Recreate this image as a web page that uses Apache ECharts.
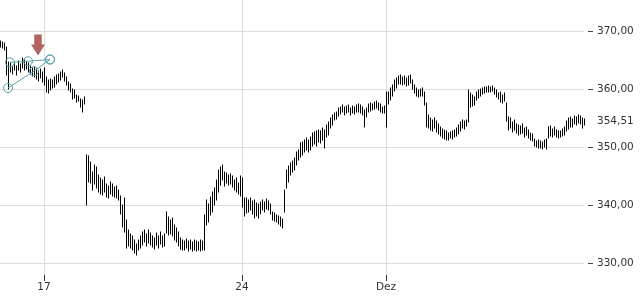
<!DOCTYPE html>
<html>
<head>
<meta charset="utf-8">
<script src="https://cdn.jsdelivr.net/npm/echarts@6/dist/echarts.min.js"></script>
<style>
html,body{margin:0;padding:0;background:#fff;}
#chart{width:640px;height:300px;}
</style>
</head>
<body>
<div id="chart"></div>
<script>
// Intraday high / low per time slot
const highs = [
368.2,368.1,367.9,367.2,364.6,364.5,363.9,364.6,363.9,364.8,
364.3,365.3,365.0,364.6,364.5,363.9,363.6,363.8,363.4,363.1,
363.4,362.9,363.6,362.1,361.5,361.7,361.5,362.1,362.4,362.6,
362.9,363.3,362.7,362.1,361.2,360.9,360.0,359.8,359.0,358.8,
358.3,358.1,358.6,348.7,348.5,347.5,345.8,347.0,346.6,345.3,
344.7,344.4,344.9,343.7,343.4,344.0,343.7,343.2,343.4,342.7,
341.6,340.1,341.3,337.5,335.8,335.1,334.8,334.1,333.4,334.1,
334.8,335.5,335.8,335.1,335.8,335.3,334.8,334.4,335.3,334.8,
335.5,334.8,335.1,338.9,338.0,337.5,337.9,336.7,336.2,335.5,
334.4,334.1,333.9,334.3,333.9,334.1,333.8,334.1,333.9,333.8,
334.1,333.9,338.4,341.0,340.3,341.5,342.3,343.0,344.4,346.1,
346.6,347.0,345.8,345.6,345.3,345.4,345.1,344.4,344.7,343.9,
345.1,344.7,341.3,341.3,341.0,341.3,340.8,341.0,340.4,340.3,
340.6,341.0,340.6,341.1,340.8,340.3,338.9,338.7,338.4,338.2,
338.0,337.7,342.7,346.1,346.8,347.3,347.7,348.2,349.2,349.5,
350.7,350.9,351.3,351.6,351.3,351.8,352.5,352.6,352.8,353.0,
352.8,353.3,353.0,353.8,354.3,355.0,355.5,355.9,356.1,356.7,
356.9,357.3,356.9,357.1,357.3,356.7,357.1,356.9,357.3,357.4,
357.3,356.9,356.4,356.7,357.4,357.6,357.4,357.8,357.9,357.6,
357.4,356.9,357.1,359.5,359.5,360.2,360.7,361.5,361.9,362.2,
362.4,362.1,362.2,361.9,362.2,362.4,361.5,360.7,360.2,359.8,
360.0,360.2,359.5,357.6,355.5,355.0,354.7,355.0,354.5,354.0,
353.5,353.1,353.0,352.8,352.5,352.6,352.8,353.0,353.3,353.8,
354.3,354.7,354.5,354.7,359.8,359.3,359.0,358.6,359.5,359.8,
360.0,360.2,360.3,360.3,360.5,360.3,360.5,360.2,359.8,359.3,
359.5,359.0,359.3,357.6,355.2,355.0,354.3,354.7,354.0,353.8,
353.7,354.0,353.3,353.5,353.0,352.5,352.3,351.4,351.1,351.3,
351.1,350.9,351.3,351.4,353.5,353.7,353.1,353.5,353.0,352.8,
352.8,353.1,353.5,354.5,355.0,355.2,354.9,355.4,355.2,355.5,
355.4,355.0,354.9
];
const lows = [
367.2,367.0,366.7,362.4,360.0,362.9,362.6,363.3,362.4,363.3,
362.9,363.6,363.3,363.4,362.9,362.6,362.2,362.1,361.7,361.4,
361.9,361.2,360.7,359.5,359.3,359.8,360.2,360.3,360.9,361.2,
361.5,362.1,361.4,360.7,359.8,359.5,358.3,358.5,357.8,357.9,
356.9,356.1,357.4,340.1,344.0,343.9,342.7,343.7,343.0,342.3,
342.0,341.8,342.3,341.5,341.3,342.0,341.6,341.5,341.3,341.0,
338.6,336.3,335.5,332.7,333.1,332.7,332.4,331.9,331.5,332.4,
332.7,333.2,333.8,333.1,333.6,333.2,332.9,332.6,333.2,332.7,
333.4,332.9,333.1,335.3,335.0,335.1,334.8,334.1,333.8,333.1,
332.6,332.4,332.4,332.7,332.2,332.6,332.2,332.4,332.2,332.4,
332.2,332.4,332.4,336.7,337.2,338.4,338.9,340.1,341.0,342.3,
343.5,344.4,343.4,343.9,343.5,343.7,343.2,342.7,342.3,342.0,
341.6,339.8,338.2,338.7,338.9,339.2,338.6,337.9,338.2,337.9,
338.6,339.2,338.9,339.4,339.2,338.6,337.5,337.4,337.2,336.8,
336.5,336.2,338.9,343.0,344.0,345.3,345.8,346.1,347.0,347.8,
348.3,348.7,349.2,349.5,349.2,349.5,350.2,350.6,350.2,350.9,
350.7,351.3,349.9,351.8,352.1,353.3,353.8,354.7,354.9,355.4,
355.7,356.1,355.5,355.9,356.1,355.5,355.9,355.7,356.1,356.1,
355.9,355.5,353.5,355.2,356.1,356.2,356.4,356.6,356.7,356.4,
356.1,355.9,355.9,353.5,357.4,358.1,358.8,359.7,360.2,360.9,
360.9,360.7,360.9,360.5,360.7,361.0,360.0,359.3,358.8,358.6,
358.8,358.8,357.3,353.5,353.3,353.0,352.8,353.3,352.6,352.3,
351.9,351.6,351.4,351.3,351.3,351.6,351.4,351.8,351.9,352.3,
352.8,353.3,353.1,353.7,354.3,356.9,357.1,357.3,358.1,358.5,
358.8,359.1,359.3,359.5,359.5,359.5,359.7,359.1,358.6,358.3,
357.8,357.6,357.9,354.5,353.0,353.3,352.6,353.0,352.5,352.1,
352.3,352.5,351.8,352.1,351.6,351.3,351.1,350.2,350.1,349.9,
349.9,349.7,350.1,349.7,351.6,351.9,351.8,352.1,351.8,351.6,
351.8,351.9,352.1,352.8,353.1,353.5,353.5,354.0,353.8,354.2,
354.0,353.3,353.8
];
// Day starts (slot index) and their tick labels
const dayLabels = ['17', '24', 'Dez'];
const dayIdx = [22, 121, 193];
// Price axis ticks
const priceTicks = [330, 340, 350, 360, 370];
const lastPrice = 354.51;
// Chart annotations (slot index, price)
const trendUpper = [[5, 364.6], [14, 364.8], [25, 365.1]];
const trendLower = [[4, 360.2], [17, 363.1], [25, 365.1]];
const arrowMark = [[19, 367.6]];

const categories = highs.map((_, i) => {
  const k = dayIdx.indexOf(i);
  return k >= 0 ? dayLabels[k] : '';
});
const bars = highs.map((h, i) => [i, lows[i], h]);
const isDay = (i) => dayIdx.indexOf(i) >= 0;
const fmt = (v) => v.toFixed(2).replace('.', ',');

const FONT = 'DejaVu Sans';
const chart = echarts.init(document.getElementById('chart'), null, {renderer: 'canvas'});
const teal = '#55a2a6';

chart.setOption({
  animation: false,
  backgroundColor: '#ffffff',
  grid: [
    {left: 0, width: 584, top: -27.175, height: 349.05, containLabel: false, outerBoundsMode: 'none'},
    {left: 0, width: 584, top: 0, height: 281, containLabel: false, outerBoundsMode: 'none'}
  ],
  xAxis: [
    {type: 'category', gridIndex: 0, data: categories, boundaryGap: false, show: false},
    {
      type: 'category', gridIndex: 1, data: categories, boundaryGap: false,
      offset: 19,
      axisLine: {show: false},
      axisTick: {show: true, inside: true, length: 6, interval: isDay, lineStyle: {color: '#333'}},
      axisLabel: {show: true, inside: true, margin: 7, interval: isDay, color: '#333', fontSize: 10.5, fontFamily: FONT},
      splitLine: {show: true, interval: isDay, lineStyle: {color: '#dcdcdc', width: 1}}
    }
  ],
  yAxis: [
    {
      type: 'value', gridIndex: 0, position: 'right',
      min: 320, max: 380, interval: 10, offset: 4,
      axisLine: {show: false},
      axisTick: {show: true, length: 5, lineStyle: {color: '#444'}},
      axisLabel: {
        margin: 9, color: '#333', fontSize: 10.5, fontFamily: FONT,
        formatter: (v) => priceTicks.indexOf(v) >= 0 ? fmt(v) : ''
      },
      splitLine: {show: true, lineStyle: {color: '#dcdcdc', width: 1}}
    },
    {type: 'value', gridIndex: 1, show: false, min: 0, max: 1}
  ],
  series: [
    {
      type: 'custom',
      xAxisIndex: 0, yAxisIndex: 0,
      data: bars,
      encode: {x: 0, y: [1, 2]},
      clip: false,
      renderItem: function (params, api) {
        const i = api.value(0);
        const lo = api.coord([i, api.value(1)]);
        const hi = api.coord([i, api.value(2)]);
        const x = Math.round(lo[0]) + 0.5;
        return {
          type: 'line',
          shape: {x1: x, y1: Math.round(lo[1]) + 0.5, x2: x, y2: Math.round(hi[1]) - 0.5},
          style: {stroke: '#000000', lineWidth: 1}
        };
      },
      z: 2
    },
    {
      type: 'line', xAxisIndex: 0, yAxisIndex: 0,
      data: trendUpper,
      symbol: 'circle', symbolSize: 9, showSymbol: true, showAllSymbol: true,
      lineStyle: {color: teal, width: 1},
      itemStyle: {color: 'rgba(0,0,0,0)', borderColor: teal, borderWidth: 1},
      z: 5
    },
    {
      type: 'line', xAxisIndex: 0, yAxisIndex: 0,
      data: trendLower,
      symbol: 'circle', symbolSize: 9, showSymbol: true, showAllSymbol: true,
      lineStyle: {color: teal, width: 1},
      itemStyle: {color: 'rgba(0,0,0,0)', borderColor: teal, borderWidth: 1},
      z: 5
    },
    {
      type: 'scatter', xAxisIndex: 0, yAxisIndex: 0,
      data: arrowMark,
      symbol: 'path://M3,0 L10,0 L10,10 L13,10 L6.5,21 L0,10 L3,10 Z',
      symbolSize: [14, 21],
      itemStyle: {color: '#a03c37'},
      z: 6,
      markLine: {
        silent: true,
        symbol: ['none', 'none'],
        lineStyle: {color: 'rgba(255,255,255,0)', width: 1, type: 'solid'},
        label: {
          show: true, position: 'end', distance: 13,
          color: '#333', fontSize: 10.5, fontFamily: FONT,
          formatter: () => fmt(lastPrice)
        },
        data: [{yAxis: lastPrice}]
      }
    }
  ]
});
</script>
</body>
</html>
